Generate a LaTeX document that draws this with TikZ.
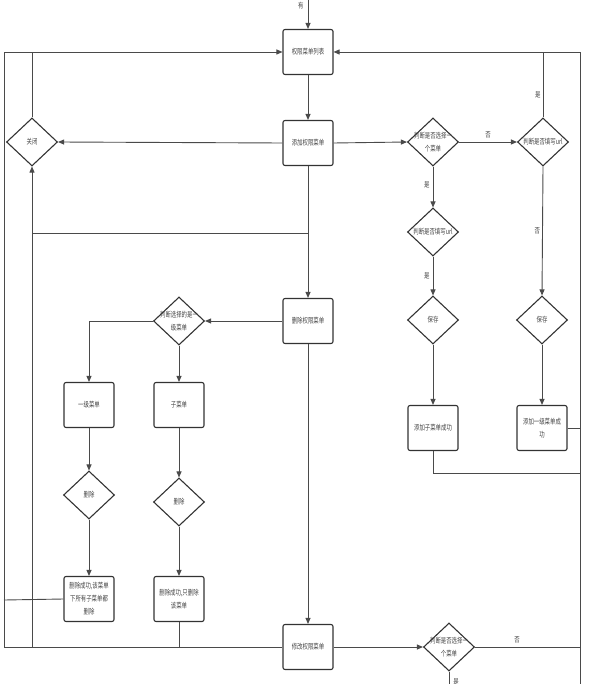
\documentclass[tikz,border=0pt]{standalone}
\usepackage{fontspec}
\newfontfamily\cjk[FakeStretch=0.72]{Noto Sans CJK SC}
\usetikzlibrary{shapes.geometric,arrows.meta}
\definecolor{ln}{HTML}{4A4A4A}
\definecolor{bx}{HTML}{333333}
\definecolor{tx}{HTML}{444444}
\begin{document}
\begin{tikzpicture}[x=1pt,y=-1pt,
  box/.style={draw=bx,line width=1.1pt,rounded corners=2pt,minimum width=50pt,minimum height=45pt,inner sep=0pt},
  dia/.style={draw=bx,line width=1.1pt,diamond,minimum width=51pt,minimum height=48pt,inner sep=0pt},
  txt/.style={font=\cjk\fontsize{7.5}{13}\selectfont,text=tx,align=center,inner sep=0pt},
  lbl/.style={font=\cjk\fontsize{7.5}{9}\selectfont,text=tx,inner sep=1pt},
  ln/.style={draw=ln,line width=0.9pt},
  arr/.style={ln,-{Triangle[length=6pt,width=5pt]}}]
\useasboundingbox (0,0) rectangle (589,684);
% nodes
\node[box] (list) at (308,52) {};
\node[txt] at (list) {权限菜单列表};
\node[box] (add) at (308,143) {};
\node[txt] at (add) {添加权限菜单};
\node[dia] (close) at (32,142) {};
\node[txt] at (close) {关闭};
\node[dia] (sel1) at (433,142) {};
\node[txt] at (sel1) {判断是否选择一\\个菜单};
\node[dia] (url2) at (543,142) {};
\node[txt] at (url2) {判断是否填写url};
\node[dia] (url1) at (433,232) {};
\node[txt] at (url1) {判断是否填写url};
\node[dia] (save1) at (433,320) {};
\node[txt] at (save1) {保存};
\node[dia] (save2) at (542,320) {};
\node[txt] at (save2) {保存};
\node[box] (subok) at (433,428) {};
\node[txt] at (subok) {添加子菜单成功};
\node[box] (topok) at (542,428) {};
\node[txt] at (topok) {添加一级菜单成\\功};
\node[box] (del) at (308,321) {};
\node[txt] at (del) {删除权限菜单};
\node[dia] (isTop) at (179,321) {};
\node[txt] at (isTop) {判断选择的是一\\级菜单};
\node[box] (lvl1) at (89,405) {};
\node[txt] at (lvl1) {一级菜单};
\node[box] (sub) at (179,405) {};
\node[txt] at (sub) {子菜单};
\node[dia] (del1) at (89,495) {};
\node[txt] at (del1) {删除};
\node[dia] (del2) at (179,502) {};
\node[txt] at (del2) {删除};
\node[box] (del1ok) at (89,599) {};
\node[txt] at (del1ok) {删除成功,该菜单\\下所有子菜单都\\删除};
\node[box] (del2ok) at (179,599) {};
\node[txt] at (del2ok) {删除成功,只删除\\该菜单};
\node[box] (mod) at (308,647) {};
\node[txt] at (mod) {修改权限菜单};
\node[dia] (sel2) at (449,647) {};
\node[txt] at (sel2) {判断是否选择一\\个菜单};
% coordinates
\coordinate (topin) at (308,0);
\coordinate (oLt) at (4,52);
\coordinate (oLb) at (4,647);
\coordinate (oLm) at (4,600);
\coordinate (iLt) at (32,52);
\coordinate (iLb) at (32,647);
\coordinate (iLm) at (32,233);
\coordinate (cM) at (308,233);
\coordinate (oRt) at (580,52);
\coordinate (oRb) at (580,684);
\coordinate (oRa) at (580,428);
\coordinate (oRs) at (580,473);
\coordinate (subT) at (433,473);
\coordinate (oRm) at (580,647);
\coordinate (bMid) at (179,647);
\coordinate (url2T) at (543,52);
\coordinate (sel2B) at (449,684);
% connectors
\draw[arr] (topin) -- node[lbl,pos=0.2,left=3pt] {有} (list.north);
\draw[arr] (list.south) -- (add.north);
\draw[arr] (add.south) -- (del.north);
\draw[arr] (del.south) -- (mod.north);
\draw[arr] (add.west) -- (close.east);
\draw[ln] (close.north) -- (iLt);
\draw[arr] (iLb) -- (close.south);
\draw[ln] (iLm) -- (cM);
\draw[arr] (mod.west) -- (oLb) -- (oLt) -- (list.west);
\draw[ln] (del1ok.west) -- (oLm);
\draw[ln] (del2ok.south) -- (bMid);
\draw[arr] (add.east) -- (sel1.west);
\draw[arr] (sel1.east) -- node[lbl,above=2pt,pos=0.5] {否} (url2.west);
\draw[arr] (sel1.south) -- node[lbl,left=2pt,pos=0.45] {是} (url1.north);
\draw[arr] (url1.south) -- node[lbl,left=2pt,pos=0.5] {是} (save1.north);
\draw[arr] (save1.south) -- (subok.north);
\draw[ln] (subok.south) -- (subT) -- (oRs);
\draw[arr] (url2.south) -- node[lbl,left=1pt,pos=0.5] {否} (save2.north);
\draw[arr] (save2.south) -- (topok.north);
\draw[ln] (topok.east) -- (oRa);
\draw[ln] (url2.north) -- node[lbl,left=1pt,pos=0.35] {是} (url2T);
\draw[arr] (oRb) -- (oRt) -- (list.east);
\draw[arr] (del.west) -- (isTop.east);
\draw[arr] (isTop.west) -| (lvl1.north);
\draw[arr] (isTop.south) -- (sub.north);
\draw[arr] (lvl1.south) -- (del1.north);
\draw[arr] (sub.south) -- (del2.north);
\draw[arr] (del1.south) -- (del1ok.north);
\draw[arr] (del2.south) -- (del2ok.north);
\draw[arr] (mod.east) -- (sel2.west);
\draw[ln] (sel2.east) -- node[lbl,above=2pt,pos=0.4] {否} (oRm);
\draw[ln] (sel2.south) -- node[lbl,right=3pt,pos=0.8] {是} (sel2B);
\end{tikzpicture}
\end{document}
